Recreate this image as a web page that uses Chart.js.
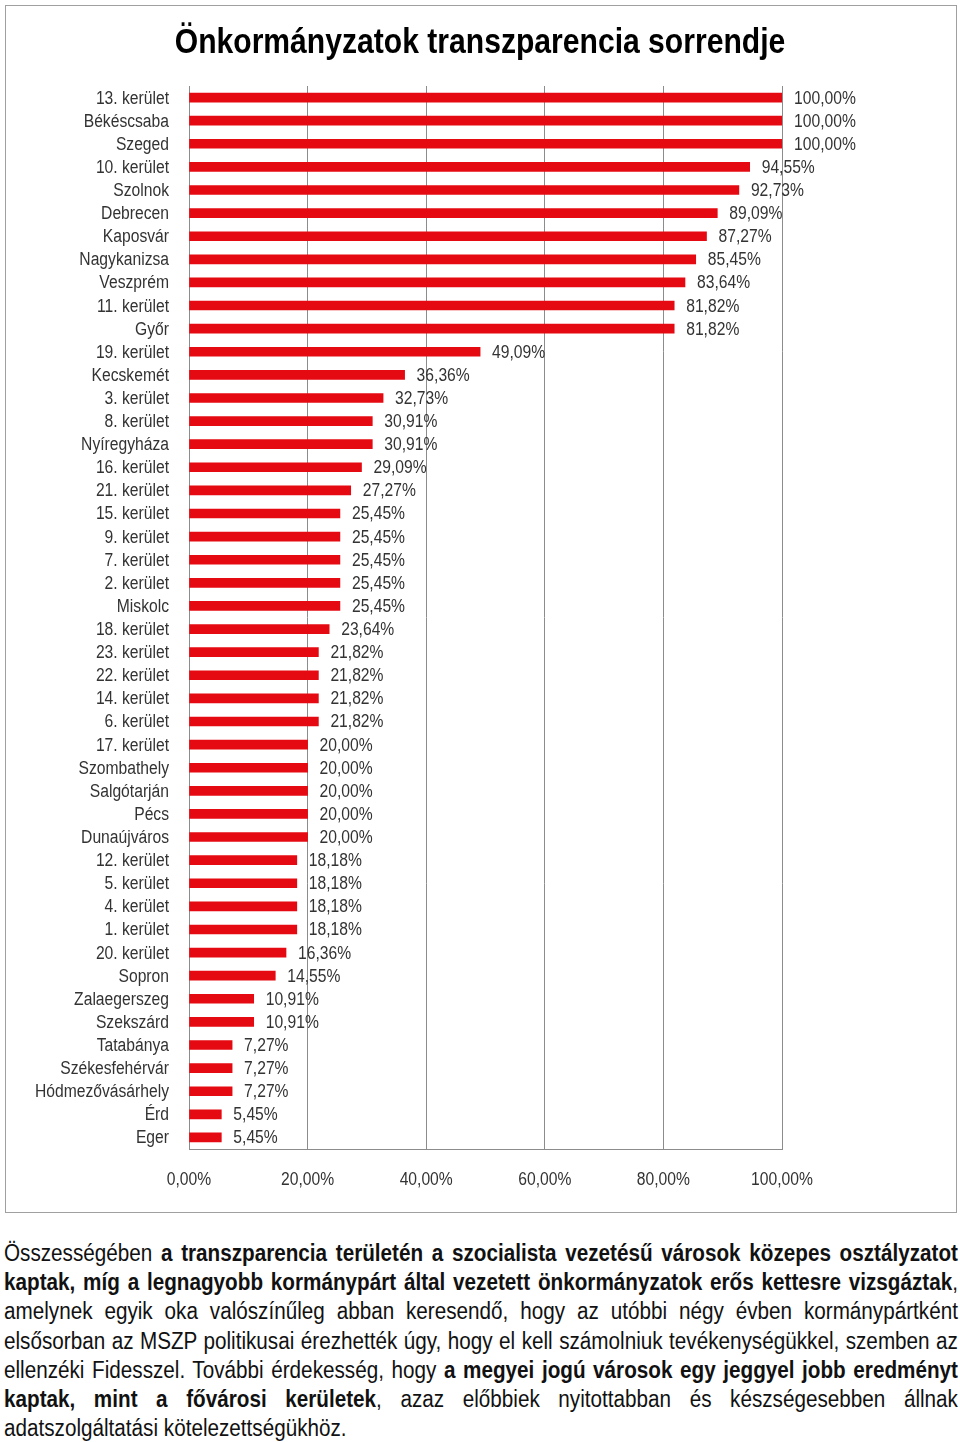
<!DOCTYPE html>
<html>
<head>
<meta charset="utf-8">
<script src="https://cdn.jsdelivr.net/npm/chart.js@4/dist/chart.umd.min.js"></script>
<style>
  body { margin: 0; background: #fff; width: 960px; height: 1442px; position: relative; overflow: hidden; }
  #doboz { position: absolute; left: 5px; top: 5px; width: 950px; height: 1206px; border: 1px solid #a0a0a0; }
  #szoveg { position: absolute; left: 4px; top: 1239px; width: 954px; font-family: "Liberation Sans", Arial, sans-serif; font-size: 23.5px; line-height: 29.2px; color: #111; }
  /* szukitett betu imitalasa */
  #szoveg div { width: 1084px; white-space: nowrap; text-align: justify; text-align-last: justify; transform: scaleX(0.88); transform-origin: 0 0; }
  #szoveg div.utolso { text-align-last: left; }
</style>
</head>
<body>
<div id="doboz"><canvas id="graficoSorrend" width="950" height="1206"></canvas></div>
<div id="szoveg">
  <div>Összességében <b>a transzparencia területén a szocialista vezetésű városok közepes osztályzatot</b></div>
  <div><b>kaptak, míg a legnagyobb kormánypárt által vezetett önkormányzatok erős kettesre vizsgáztak</b>,</div>
  <div>amelynek egyik oka valószínűleg abban keresendő, hogy az utóbbi négy évben kormánypártként</div>
  <div>elsősorban az MSZP politikusai érezhették úgy, hogy el kell számolniuk tevékenységükkel, szemben az</div>
  <div>ellenzéki Fidesszel. További érdekesség, hogy <b>a megyei jogú városok egy jeggyel jobb eredményt</b></div>
  <div><b>kaptak, mint a fővárosi kerületek</b>, azaz előbbiek nyitottabban és készségesebben állnak</div>
  <div class="utolso">adatszolgáltatási kötelezettségükhöz.</div>
</div>
<script>
const betu = '"Liberation Sans", Arial, sans-serif';
const szukites = 0.87;

const cim = 'Önkormányzatok transzparencia sorrendje';
const telepulesek = [
    '13. kerület', 'Békéscsaba', 'Szeged', '10. kerület', 'Szolnok', 'Debrecen', 'Kaposvár',
    'Nagykanizsa', 'Veszprém', '11. kerület', 'Győr', '19. kerület', 'Kecskemét', '3. kerület',
    '8. kerület', 'Nyíregyháza', '16. kerület', '21. kerület', '15. kerület', '9. kerület',
    '7. kerület', '2. kerület', 'Miskolc', '18. kerület', '23. kerület', '22. kerület',
    '14. kerület', '6. kerület', '17. kerület', 'Szombathely', 'Salgótarján', 'Pécs',
    'Dunaújváros', '12. kerület', '5. kerület', '4. kerület', '1. kerület', '20. kerület',
    'Sopron', 'Zalaegerszeg', 'Szekszárd', 'Tatabánya', 'Székesfehérvár', 'Hódmezővásárhely',
    'Érd', 'Eger'
];
const ertekek = [
    100, 100, 100, 94.55, 92.73, 89.09, 87.27,
    85.45, 83.64, 81.82, 81.82, 49.09, 36.36, 32.73,
    30.91, 30.91, 29.09, 27.27, 25.45, 25.45,
    25.45, 25.45, 25.45, 23.64, 21.82, 21.82,
    21.82, 21.82, 20, 20, 20, 20,
    20, 18.18, 18.18, 18.18, 18.18, 16.36,
    14.55, 10.91, 10.91, 7.27, 7.27, 7.27,
    5.45, 5.45
];
const tengelyCimkek = [0, 20, 40, 60, 80, 100];

function szazalek(v) {
    return v.toFixed(2).replace('.', ',') + '%';
}

function szukitettSzoveg(ctx, szoveg, x, y, igazitas, arany) {
    ctx.save();
    ctx.translate(x, y);
    ctx.scale(arany, 1);
    ctx.textAlign = igazitas;
    ctx.fillText(szoveg, 0, 0);
    ctx.restore();
}

// cim, tengelyfeliratok es ertekcimkek szukitett betuvel
const feliratPlugin = {
    id: 'feliratok',
    afterDraw(chart) {
        const ctx = chart.ctx;
        const sx = chart.scales.x, sy = chart.scales.y;
        const meta = chart.getDatasetMeta(0);
        ctx.save();
        ctx.textBaseline = 'alphabetic';

        ctx.fillStyle = '#000';
        ctx.font = 'bold 35px ' + betu;
        szukitettSzoveg(ctx, cim, 474, 47, 'center', 0.86);

        ctx.fillStyle = '#333';
        ctx.font = '18px ' + betu;
        ctx.textBaseline = 'middle';
        telepulesek.forEach((nev, i) => {
            szukitettSzoveg(ctx, nev, sx.left - 20, sy.getPixelForValue(i) + 1, 'right', szukites);
        });
        meta.data.forEach((bar, i) => {
            szukitettSzoveg(ctx, szazalek(ertekek[i]), bar.x + 12, bar.y + 1, 'left', szukites);
        });
        tengelyCimkek.forEach(v => {
            szukitettSzoveg(ctx, szazalek(v), sx.getPixelForValue(v), sy.bottom + 31, 'center', szukites);
        });
        ctx.restore();
    }
};

new Chart(document.getElementById('graficoSorrend').getContext('2d'), {
    type: 'bar',
    data: {
        labels: telepulesek,
        datasets: [{ data: ertekek, backgroundColor: '#e50a12', borderWidth: 0, barThickness: 9 }]
    },
    options: {
        indexAxis: 'y',
        responsive: false,
        animation: false,
        layout: { padding: { left: 0, right: 174, top: 80, bottom: 0 } },
        plugins: {
            legend: { display: false },
            tooltip: { enabled: false },
            title: { display: false }
        },
        scales: {
            x: {
                min: 0, max: 100,
                afterBuildTicks: s => { s.ticks = tengelyCimkek.map(v => ({ value: v })); },
                afterFit: s => { s.height = 63; },
                grid: { color: '#8c8c8c', lineWidth: 1, drawTicks: false },
                border: { color: '#8c8c8c' },
                ticks: { display: false }
            },
            y: {
                afterFit: s => { s.width = 183; },
                grid: { display: false, drawTicks: false },
                border: { color: '#8c8c8c' },
                ticks: { display: false }
            }
        }
    },
    plugins: [feliratPlugin]
});
</script>
</body>
</html>
